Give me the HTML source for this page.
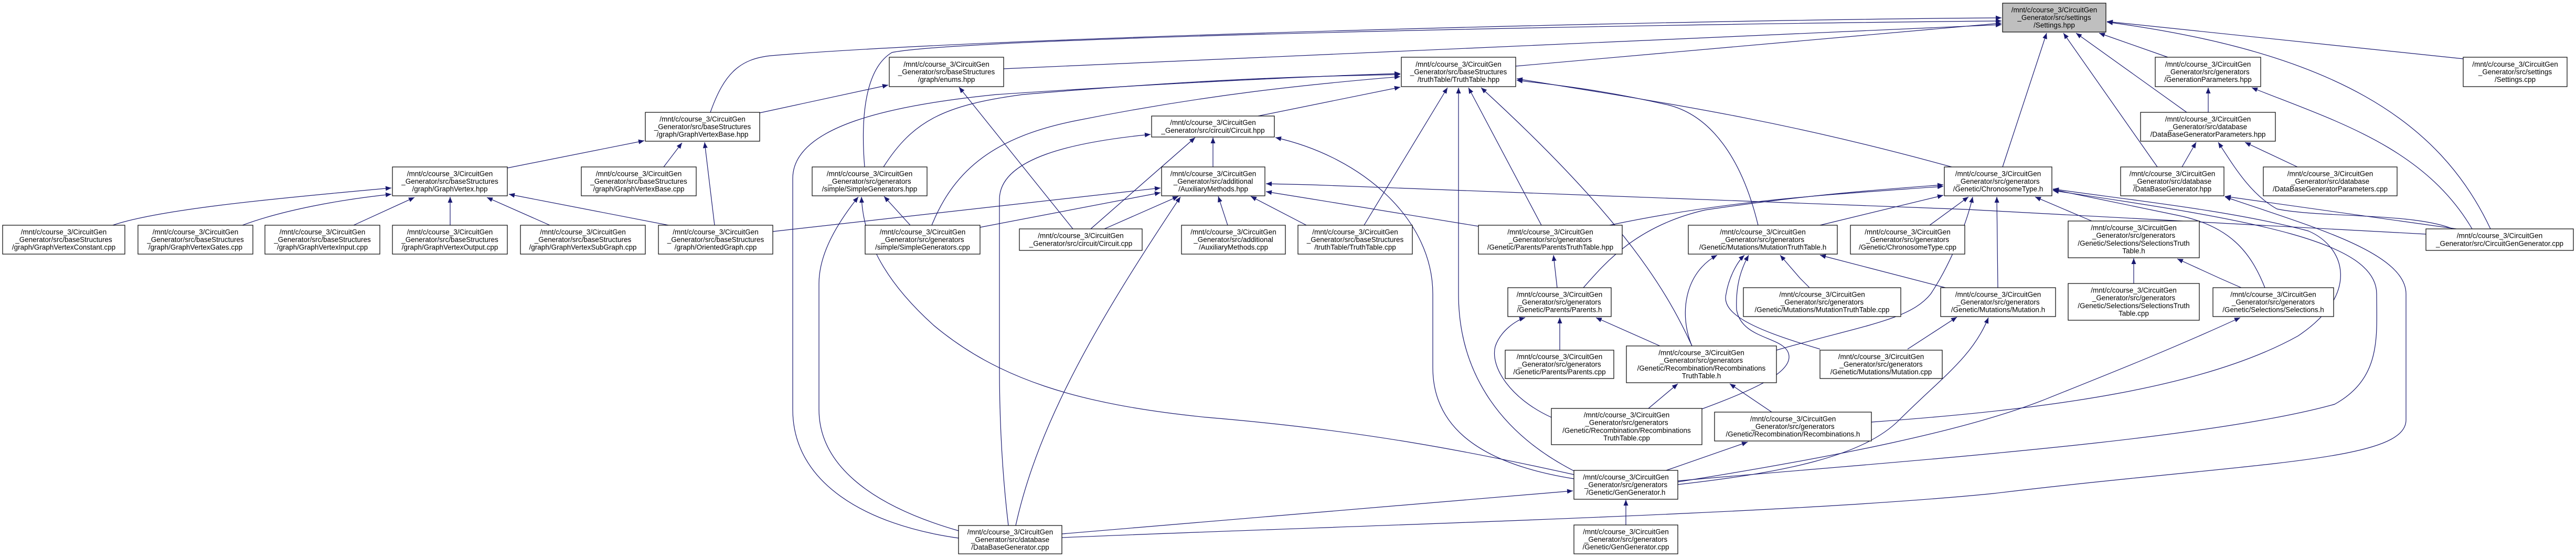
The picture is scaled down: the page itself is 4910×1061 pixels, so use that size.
<!DOCTYPE html>
<html><head><meta charset="utf-8"><style>
html,body{margin:0;padding:0;background:#fff;}
svg{display:block;}
text{font-family:"Liberation Sans",Arial,sans-serif;font-size:13.5px;fill:#000;text-anchor:middle;}
rect{fill:#fff;stroke:#000;stroke-width:1.2;}
path.e{fill:none;stroke:#191970;stroke-width:1.2;}
</style></head><body>
<svg width="4910" height="1061" viewBox="0 0 4910 1061" xmlns="http://www.w3.org/2000/svg">
<defs><marker id="a" markerWidth="12" markerHeight="9" refX="11" refY="4.5" orient="auto" markerUnits="userSpaceOnUse"><path d="M0,0 L11,4.5 L0,9 z" fill="#191970"/></marker></defs>
<rect x="0" y="0" width="4910" height="1061" style="fill:#fff;stroke:none"/>
<g marker-end="url(#a)">
<path class="e" d="M215,429 C300,400 500,380 746,358"/>
<path class="e" d="M462,429 C540,400 650,380 746,370"/>
<path class="e" d="M674,429 L790,376"/>
<path class="e" d="M858,429 L858,375"/>
<path class="e" d="M1048,429 L928,376"/>
<path class="e" d="M1274,429 L970,370"/>
<path class="e" d="M967,320 L1228,268"/>
<path class="e" d="M1265,318 L1300,272"/>
<path class="e" d="M1362,429 L1343,271"/>
<path class="e" d="M1448,215 L1693,162"/>
<path class="e" d="M1354,214 C1380,140 1410,112 1470,106 C1900,70 3200,38 3815,34"/>
<path class="e" d="M1648,318 C1640,220 1650,130 1700,100 C1850,70 3200,45 3815,40"/>
<path class="e" d="M1913,131 L3815,47"/>
<path class="e" d="M2889,126 L3815,44"/>
<path class="e" d="M3817,318 L3901,63"/>
<path class="e" d="M4112,318 L3933,63"/>
<path class="e" d="M4168,214 L3957,63"/>
<path class="e" d="M4132,109 L4001,63"/>
<path class="e" d="M4747,436 C4650,230 4450,100 4016,42"/>
<path class="e" d="M4695,112 L4016,41"/>
<path class="e" d="M4209,214 L4209,167"/>
<path class="e" d="M4712,436 C4620,280 4450,230 4292,167"/>
<path class="e" d="M4159,318 L4186,271"/>
<path class="e" d="M4379,318 L4279,271"/>
<path class="e" d="M4675,436 C4600,405 4420,415 4340,398 C4290,370 4260,320 4228,271"/>
<path class="e" d="M4682,436 L4241,374"/>
<path class="e" d="M2024,1024 C2600,1000 3400,980 3800,940 C4300,880 4586,880 4586,800 L4586,560 C4586,480 4400,430 4241,375"/>
<path class="e" d="M3567,804 C3900,780 4200,740 4380,640 C4500,560 4470,470 4400,440 C4250,400 4050,380 3913,360"/>
<path class="e" d="M3198,916 C3600,880 4200,840 4450,770 C4540,720 4530,640 4530,560 C4530,460 4300,420 3913,363"/>
<path class="e" d="M4317,548 C4290,480 4250,430 4150,410 C4050,390 3980,375 3913,361"/>
<path class="e" d="M3987,421 L3879,375"/>
<path class="e" d="M3808,548 L3806,375"/>
<path class="e" d="M3386,667 C3550,620 3640,610 3680,560 C3720,500 3750,420 3760,375"/>
<path class="e" d="M3068,429 C3300,380 3500,370 3704,355"/>
<path class="e" d="M3018,548 C3060,500 3120,430 3250,400 C3450,370 3600,360 3704,352"/>
<path class="e" d="M3469,429 L3704,372"/>
<path class="e" d="M3678,429 L3752,375"/>
<path class="e" d="M3720,318 C3400,230 3200,200 2891,150"/>
<path class="e" d="M3351,429 C3320,300 3260,220 3180,200 C3050,170 2950,160 2891,153"/>
<path class="e" d="M3225,659 C3180,560 3100,420 2823,167"/>
<path class="e" d="M2938,429 L2799,167"/>
<path class="e" d="M3000,897 C2850,820 2780,700 2780,560 L2780,167"/>
<path class="e" d="M2600,429 L2759,167"/>
<path class="e" d="M1827,1025 C1650,1000 1511,920 1511,780 L1511,340 C1511,240 1700,200 1900,180 C2200,160 2500,145 2669,140"/>
<path class="e" d="M1684,318 C1740,230 1800,200 1950,180 C2300,150 2500,145 2669,142"/>
<path class="e" d="M1776,429 C1820,320 1900,260 2050,230 C2300,180 2500,160 2669,146"/>
<path class="e" d="M2398,221 L2669,166"/>
<path class="e" d="M3000,912 C2800,880 2731,800 2731,700 L2731,560 C2731,420 2600,300 2431,262"/>
<path class="e" d="M2079,436 L2278,262"/>
<path class="e" d="M2312,318 L2312,262"/>
<path class="e" d="M1922,1001 C1910,900 1905,800 1905,700 L1905,380 C1905,300 2050,270 2193,256"/>
<path class="e" d="M2045,436 L1828,166"/>
<path class="e" d="M2105,436 L2246,374"/>
<path class="e" d="M1473,441 L2212,358"/>
<path class="e" d="M1868,433 L2212,367"/>
<path class="e" d="M1735,429 L1685,374"/>
<path class="e" d="M2340,429 L2322,374"/>
<path class="e" d="M2490,429 L2384,374"/>
<path class="e" d="M4624,446 L3750,399 L2500,352 L2413,350"/>
<path class="e" d="M2818,431 L2500,379 L2413,365"/>
<path class="e" d="M1936,1001 C1980,800 2100,600 2250,375"/>
<path class="e" d="M1827,1011 C1650,960 1561,880 1561,780 L1561,540 C1561,480 1600,420 1636,375"/>
<path class="e" d="M3000,904 C2800,860 2600,820 2300,795 C2050,770 1900,720 1780,620 C1680,530 1645,450 1642,375"/>
<path class="e" d="M2024,1017 L2998,935"/>
<path class="e" d="M3099,1000 L3099,952"/>
<path class="e" d="M3176,896 L3331,842"/>
<path class="e" d="M3198,918 C3500,870 3750,820 3900,760 C4050,700 4150,660 4270,605"/>
<path class="e" d="M3198,923 C3400,900 3550,870 3620,800 C3700,720 3760,680 3790,605"/>
<path class="e" d="M3636,665 L3730,604"/>
<path class="e" d="M3164,659 L3042,605"/>
<path class="e" d="M2973,667 L2973,605"/>
<path class="e" d="M2957,795 C2880,760 2840,700 2850,660 C2860,630 2890,610 2907,605"/>
<path class="e" d="M2968,548 L2961,486"/>
<path class="e" d="M3142,778 L3198,731"/>
<path class="e" d="M3377,785 L3297,731"/>
<path class="e" d="M3225,659 C3200,600 3210,520 3273,486"/>
<path class="e" d="M3469,665 C3350,630 3280,600 3290,560 C3295,530 3310,500 3325,486"/>
<path class="e" d="M3244,779 C3350,740 3410,710 3410,680 C3410,640 3320,650 3310,590 C3308,540 3320,510 3333,486"/>
<path class="e" d="M3449,548 L3431,530 L3393,486"/>
<path class="e" d="M3708,548 L3469,486"/>
<path class="e" d="M4067,540 L4067,492"/>
<path class="e" d="M4272,548 L4231,530 L4150,493"/>
</g>

<rect x="3817" y="6" width="197" height="55" style="fill:#bfbfbf"/>
<text x="3915.5" y="23.3">/mnt/c/course_3/CircuitGen<tspan x="3915.5" dy="14.7">_Generator/src/settings</tspan><tspan x="3915.5" dy="14.7">/Settings.hpp</tspan></text>

<rect x="5" y="429" width="233" height="55"/>
<text x="121.5" y="446.3">/mnt/c/course_3/CircuitGen<tspan x="121.5" dy="14.7">_Generator/src/baseStructures</tspan><tspan x="121.5" dy="14.7">/graph/GraphVertexConstant.cpp</tspan></text>
<rect x="263" y="429" width="219" height="55"/>
<text x="372.5" y="446.3">/mnt/c/course_3/CircuitGen<tspan x="372.5" dy="14.7">_Generator/src/baseStructures</tspan><tspan x="372.5" dy="14.7">/graph/GraphVertexGates.cpp</tspan></text>
<rect x="505" y="429" width="219" height="55"/>
<text x="614.5" y="446.3">/mnt/c/course_3/CircuitGen<tspan x="614.5" dy="14.7">_Generator/src/baseStructures</tspan><tspan x="614.5" dy="14.7">/graph/GraphVertexInput.cpp</tspan></text>
<rect x="748" y="429" width="219" height="55"/>
<text x="857.5" y="446.3">/mnt/c/course_3/CircuitGen<tspan x="857.5" dy="14.7">_Generator/src/baseStructures</tspan><tspan x="857.5" dy="14.7">/graph/GraphVertexOutput.cpp</tspan></text>
<rect x="992" y="429" width="238" height="55"/>
<text x="1111" y="446.3">/mnt/c/course_3/CircuitGen<tspan x="1111" dy="14.7">_Generator/src/baseStructures</tspan><tspan x="1111" dy="14.7">/graph/GraphVertexSubGraph.cpp</tspan></text>
<rect x="748" y="318" width="219" height="55"/>
<text x="857.5" y="335.3">/mnt/c/course_3/CircuitGen<tspan x="857.5" dy="14.7">_Generator/src/baseStructures</tspan><tspan x="857.5" dy="14.7">/graph/GraphVertex.hpp</tspan></text>
<rect x="1230" y="214" width="218" height="55"/>
<text x="1339" y="231.3">/mnt/c/course_3/CircuitGen<tspan x="1339" dy="14.7">_Generator/src/baseStructures</tspan><tspan x="1339" dy="14.7">/graph/GraphVertexBase.hpp</tspan></text>
<rect x="1108" y="318" width="219" height="55"/>
<text x="1217.5" y="335.3">/mnt/c/course_3/CircuitGen<tspan x="1217.5" dy="14.7">_Generator/src/baseStructures</tspan><tspan x="1217.5" dy="14.7">/graph/GraphVertexBase.cpp</tspan></text>
<rect x="1695" y="109" width="218" height="56"/>
<text x="1804" y="126.8">/mnt/c/course_3/CircuitGen<tspan x="1804" dy="14.7">_Generator/src/baseStructures</tspan><tspan x="1804" dy="14.7">/graph/enums.hpp</tspan></text>
<rect x="1255" y="429" width="218" height="55"/>
<text x="1364" y="446.3">/mnt/c/course_3/CircuitGen<tspan x="1364" dy="14.7">_Generator/src/baseStructures</tspan><tspan x="1364" dy="14.7">/graph/OrientedGraph.cpp</tspan></text>
<rect x="1548" y="318" width="219" height="55"/>
<text x="1657.5" y="335.3">/mnt/c/course_3/CircuitGen<tspan x="1657.5" dy="14.7">_Generator/src/generators</tspan><tspan x="1657.5" dy="14.7">/simple/SimpleGenerators.hpp</tspan></text>
<rect x="1649" y="429" width="219" height="55"/>
<text x="1758.5" y="446.3">/mnt/c/course_3/CircuitGen<tspan x="1758.5" dy="14.7">_Generator/src/generators</tspan><tspan x="1758.5" dy="14.7">/simple/SimpleGenerators.cpp</tspan></text>
<rect x="2195" y="221" width="234" height="40"/>
<text x="2312" y="238.2">/mnt/c/course_3/CircuitGen<tspan x="2312" dy="14.7">_Generator/src/circuit/Circuit.hpp</tspan></text>
<rect x="2214" y="318" width="197" height="55"/>
<text x="2312.5" y="335.3">/mnt/c/course_3/CircuitGen<tspan x="2312.5" dy="14.7">_Generator/src/additional</tspan><tspan x="2312.5" dy="14.7">/AuxiliaryMethods.hpp</tspan></text>
<rect x="1943" y="436" width="234" height="41"/>
<text x="2060" y="453.6">/mnt/c/course_3/CircuitGen<tspan x="2060" dy="14.7">_Generator/src/circuit/Circuit.cpp</tspan></text>
<rect x="2252" y="429" width="198" height="55"/>
<text x="2351" y="446.3">/mnt/c/course_3/CircuitGen<tspan x="2351" dy="14.7">_Generator/src/additional</tspan><tspan x="2351" dy="14.7">/AuxiliaryMethods.cpp</tspan></text>
<rect x="2671" y="109" width="218" height="56"/>
<text x="2780" y="126.8">/mnt/c/course_3/CircuitGen<tspan x="2780" dy="14.7">_Generator/src/baseStructures</tspan><tspan x="2780" dy="14.7">/truthTable/TruthTable.hpp</tspan></text>
<rect x="2474" y="429" width="218" height="55"/>
<text x="2583" y="446.3">/mnt/c/course_3/CircuitGen<tspan x="2583" dy="14.7">_Generator/src/baseStructures</tspan><tspan x="2583" dy="14.7">/truthTable/TruthTable.cpp</tspan></text>
<rect x="2818" y="429" width="274" height="55"/>
<text x="2955" y="446.3">/mnt/c/course_3/CircuitGen<tspan x="2955" dy="14.7">_Generator/src/generators</tspan><tspan x="2955" dy="14.7">/Genetic/Parents/ParentsTruthTable.hpp</tspan></text>
<rect x="3218" y="429" width="284" height="55"/>
<text x="3360" y="446.3">/mnt/c/course_3/CircuitGen<tspan x="3360" dy="14.7">_Generator/src/generators</tspan><tspan x="3360" dy="14.7">/Genetic/Mutations/MutationTruthTable.h</tspan></text>
<rect x="3527" y="429" width="218" height="55"/>
<text x="3636" y="446.3">/mnt/c/course_3/CircuitGen<tspan x="3636" dy="14.7">_Generator/src/generators</tspan><tspan x="3636" dy="14.7">/Genetic/ChronosomeType.cpp</tspan></text>
<rect x="3706" y="318" width="205" height="55"/>
<text x="3808.5" y="335.3">/mnt/c/course_3/CircuitGen<tspan x="3808.5" dy="14.7">_Generator/src/generators</tspan><tspan x="3808.5" dy="14.7">/Genetic/ChronosomeType.h</tspan></text>
<rect x="4108" y="109" width="201" height="56"/>
<text x="4208.5" y="126.8">/mnt/c/course_3/CircuitGen<tspan x="4208.5" dy="14.7">_Generator/src/generators</tspan><tspan x="4208.5" dy="14.7">/GenerationParameters.hpp</tspan></text>
<rect x="4695" y="109" width="198" height="56"/>
<text x="4794" y="126.8">/mnt/c/course_3/CircuitGen<tspan x="4794" dy="14.7">_Generator/src/settings</tspan><tspan x="4794" dy="14.7">/Settings.cpp</tspan></text>
<rect x="4080" y="214" width="257" height="55"/>
<text x="4208.5" y="231.3">/mnt/c/course_3/CircuitGen<tspan x="4208.5" dy="14.7">_Generator/src/database</tspan><tspan x="4208.5" dy="14.7">/DataBaseGeneratorParameters.hpp</tspan></text>
<rect x="4042" y="318" width="197" height="55"/>
<text x="4140.5" y="335.3">/mnt/c/course_3/CircuitGen<tspan x="4140.5" dy="14.7">_Generator/src/database</tspan><tspan x="4140.5" dy="14.7">/DataBaseGenerator.hpp</tspan></text>
<rect x="4314" y="318" width="255" height="55"/>
<text x="4441.5" y="335.3">/mnt/c/course_3/CircuitGen<tspan x="4441.5" dy="14.7">_Generator/src/database</tspan><tspan x="4441.5" dy="14.7">/DataBaseGeneratorParameters.cpp</tspan></text>
<rect x="3942" y="421" width="250" height="70"/>
<text x="4067" y="438.5">/mnt/c/course_3/CircuitGen<tspan x="4067" dy="14.7">_Generator/src/generators</tspan><tspan x="4067" dy="14.7">/Genetic/Selections/SelectionsTruth</tspan><tspan x="4067" dy="14.7">Table.h</tspan></text>
<rect x="4624" y="436" width="281" height="41"/>
<text x="4764.5" y="453.6">/mnt/c/course_3/CircuitGen<tspan x="4764.5" dy="14.7">_Generator/src/CircuitGenGenerator.cpp</tspan></text>
<rect x="2874" y="548" width="197" height="55"/>
<text x="2972.5" y="565.3">/mnt/c/course_3/CircuitGen<tspan x="2972.5" dy="14.7">_Generator/src/generators</tspan><tspan x="2972.5" dy="14.7">/Genetic/Parents/Parents.h</tspan></text>
<rect x="3323" y="548" width="300" height="55"/>
<text x="3473" y="565.3">/mnt/c/course_3/CircuitGen<tspan x="3473" dy="14.7">_Generator/src/generators</tspan><tspan x="3473" dy="14.7">/Genetic/Mutations/MutationTruthTable.cpp</tspan></text>
<rect x="3699" y="548" width="219" height="55"/>
<text x="3808.5" y="565.3">/mnt/c/course_3/CircuitGen<tspan x="3808.5" dy="14.7">_Generator/src/generators</tspan><tspan x="3808.5" dy="14.7">/Genetic/Mutations/Mutation.h</tspan></text>
<rect x="3942" y="540" width="250" height="70"/>
<text x="4067" y="557.5">/mnt/c/course_3/CircuitGen<tspan x="4067" dy="14.7">_Generator/src/generators</tspan><tspan x="4067" dy="14.7">/Genetic/Selections/SelectionsTruth</tspan><tspan x="4067" dy="14.7">Table.cpp</tspan></text>
<rect x="4218" y="548" width="230" height="55"/>
<text x="4333" y="565.3">/mnt/c/course_3/CircuitGen<tspan x="4333" dy="14.7">_Generator/src/generators</tspan><tspan x="4333" dy="14.7">/Genetic/Selections/Selections.h</tspan></text>
<rect x="2869" y="667" width="207" height="54"/>
<text x="2972.5" y="683.8">/mnt/c/course_3/CircuitGen<tspan x="2972.5" dy="14.7">_Generator/src/generators</tspan><tspan x="2972.5" dy="14.7">/Genetic/Parents/Parents.cpp</tspan></text>
<rect x="3100" y="659" width="286" height="70"/>
<text x="3243" y="676.5">/mnt/c/course_3/CircuitGen<tspan x="3243" dy="14.7">_Generator/src/generators</tspan><tspan x="3243" dy="14.7">/Genetic/Recombination/Recombinations</tspan><tspan x="3243" dy="14.7">TruthTable.h</tspan></text>
<rect x="3469" y="667" width="233" height="54"/>
<text x="3585.5" y="683.8">/mnt/c/course_3/CircuitGen<tspan x="3585.5" dy="14.7">_Generator/src/generators</tspan><tspan x="3585.5" dy="14.7">/Genetic/Mutations/Mutation.cpp</tspan></text>
<rect x="2957" y="778" width="287" height="69"/>
<text x="3100.5" y="795">/mnt/c/course_3/CircuitGen<tspan x="3100.5" dy="14.7">_Generator/src/generators</tspan><tspan x="3100.5" dy="14.7">/Genetic/Recombination/Recombinations</tspan><tspan x="3100.5" dy="14.7">TruthTable.cpp</tspan></text>
<rect x="3268" y="785" width="299" height="55"/>
<text x="3417.5" y="802.3">/mnt/c/course_3/CircuitGen<tspan x="3417.5" dy="14.7">_Generator/src/generators</tspan><tspan x="3417.5" dy="14.7">/Genetic/Recombination/Recombinations.h</tspan></text>
<rect x="3000" y="896" width="198" height="55"/>
<text x="3099" y="913.3">/mnt/c/course_3/CircuitGen<tspan x="3099" dy="14.7">_Generator/src/generators</tspan><tspan x="3099" dy="14.7">/Genetic/GenGenerator.h</tspan></text>
<rect x="3000" y="1000" width="198" height="55"/>
<text x="3099" y="1017.3">/mnt/c/course_3/CircuitGen<tspan x="3099" dy="14.7">_Generator/src/generators</tspan><tspan x="3099" dy="14.7">/Genetic/GenGenerator.cpp</tspan></text>
<rect x="1827" y="1001" width="197" height="54"/>
<text x="1925.5" y="1017.8">/mnt/c/course_3/CircuitGen<tspan x="1925.5" dy="14.7">_Generator/src/database</tspan><tspan x="1925.5" dy="14.7">/DataBaseGenerator.cpp</tspan></text>
</svg>
</body></html>
